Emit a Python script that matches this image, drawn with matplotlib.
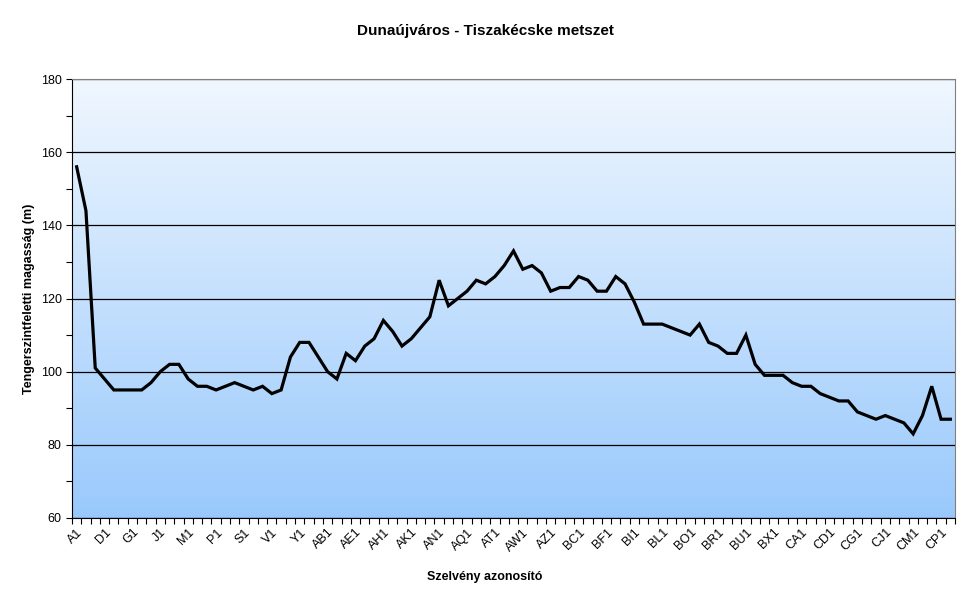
import numpy as np
import matplotlib
matplotlib.use('Agg')
import matplotlib.pyplot as plt
import matplotlib.transforms as mtransforms
from matplotlib.ticker import MultipleLocator, FixedLocator
from matplotlib.colors import LinearSegmentedColormap

plt.rcParams['font.family'] = ['Liberation Sans', 'DejaVu Sans']


def col_name(i):
    # excel style column letters: A..Z, AA..AZ, ...
    s = ''
    i += 1
    while i > 0:
        i, r = divmod(i - 1, 26)
        s = chr(65 + r) + s
    return s


heights = [156, 144, 101, 98, 95, 95, 95, 95, 97, 100,
           102, 102, 98, 96, 96, 95, 96, 97, 96, 95,
           96, 94, 95, 104, 108, 108, 104, 100, 98, 105,
           103, 107, 109, 114, 111, 107, 109, 112, 115, 125,
           118, 120, 122, 125, 124, 126, 129, 133, 128, 129,
           127, 122, 123, 123, 126, 125, 122, 122, 126, 124,
           119, 113, 113, 113, 112, 111, 110, 113, 108, 107,
           105, 105, 110, 102, 99, 99, 99, 97, 96, 96,
           94, 93, 92, 92, 89, 88, 87, 88, 87, 86,
           83, 88, 96, 87, 87]
sections = [col_name(i) + '1' for i in range(len(heights))]

title = 'Dunaújváros - Tiszakécske metszet'
xlabel = 'Szelvény azonosító'
ylabel = 'Tengerszintfeletti magasság (m)'

fig = plt.figure(figsize=(9.7, 6.04), dpi=100)
ax = fig.add_axes([72/970, 1-518/604, 883/970, 439/604])

n = len(heights)
x = np.arange(n)

# gradient plot area background
cmap = LinearSegmentedColormap.from_list('bg', ['#99c9fc', '#f0f7ff'])
grad = np.linspace(0, 1, 256).reshape(-1, 1)
ax.imshow(grad, cmap=cmap, origin='lower', aspect='auto',
          extent=(-0.5, n-0.5, 60, 180), zorder=0)

ax.plot(x, heights, color='black', lw=2.3, zorder=3,
        solid_joinstyle='miter')

ax.set_xlim(-0.5, n-0.5)
ax.set_ylim(60, 180)
ax.yaxis.set_major_locator(MultipleLocator(20))
ax.yaxis.set_minor_locator(MultipleLocator(10))
ax.grid(axis='y', which='major', color='black', lw=0.9, zorder=1)

ax.xaxis.set_major_locator(FixedLocator(x[::3]))
ax.set_xticklabels(sections[::3], rotation=45, ha='right', va='top',
                   rotation_mode='anchor', fontsize=9)
shift = mtransforms.ScaledTranslation(-6/100, -2/100, fig.dpi_scale_trans)
for lbl in ax.get_xticklabels():
    lbl.set_transform(lbl.get_transform() + shift)
ax.xaxis.set_minor_locator(FixedLocator(np.arange(-0.5, n, 1.0)))
ax.tick_params(axis='x', which='major', length=0, pad=6)
ax.tick_params(axis='x', which='minor', length=4, width=0.8, direction='out')
ax.tick_params(axis='y', which='both', length=4, width=0.8, direction='out',
               labelsize=9)

for side in ['top', 'right']:
    ax.spines[side].set_color('#808080')
    ax.spines[side].set_linewidth(0.8)
for side in ['left', 'bottom']:
    ax.spines[side].set_color('black')
    ax.spines[side].set_linewidth(0.8)

fig.text(485/970, 1-31/604, title, fontsize=11, fontweight='bold',
         ha='center', va='center')
fig.text(485/970, 1-577/604, xlabel, fontsize=9, fontweight='bold',
         ha='center', va='center')
ax.set_ylabel(ylabel, fontsize=9, fontweight='bold', labelpad=4)

fig.savefig('out.png', dpi=100)
